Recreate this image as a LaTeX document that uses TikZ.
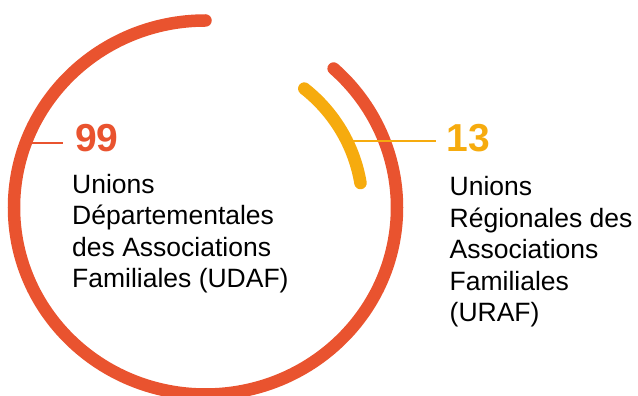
\documentclass[tikz,border=0pt]{standalone}
\usepackage{fontspec}
\setmainfont{Liberation Sans}[BoldFont={Liberation Sans Bold}]
\usepackage{tikz}
\usetikzlibrary{positioning}
\definecolor{udafred}{RGB}{233,83,47}
\definecolor{urafyellow}{RGB}{246,171,14}

\begin{document}
\begin{tikzpicture}[x=1pt, y=1pt,
    ring/.style={line width=12.5pt, line cap=round},
    tick/.style={line width=2.2pt},
    bignum/.style={inner sep=0pt, anchor=base west, font=\bfseries\fontsize{39}{39}\selectfont},
    caption/.style={inner sep=0pt, anchor=base west, align=left, font=\fontsize{26.5}{31.4}\selectfont}]
            \useasboundingbox (0,0) rectangle (638,396); % canvas
            \coordinate (ctr) at (205.5,188.5); % ring centre
            \draw[ring, udafred] ([shift={(90:191.5pt and 187pt)}]ctr) arc[start angle=90, end angle=408, x radius=191.5pt, y radius=187pt]; % UDAF ring
            \draw[ring, urafyellow] ([shift={(51:157pt and 153pt)}]ctr) arc[start angle=51, end angle=9.2, x radius=157pt, y radius=153pt]; % URAF ring
            \coordinate (udafArc) at ([shift={(159.7:191.5pt and 187pt)}]ctr);
            \coordinate (urafArc) at ([shift={(25.8:157pt and 153pt)}]ctr);
            \node[bignum, text=udafred] (num99) at (75,244.3) {99};
            \node[bignum, text=urafyellow] (num13) at (446.5,244.3) {13};
            \node[caption] (udaf) at (72,108.5) {Unions\\Départementales\\des Associations\\Familiales (UDAF)}; % base = last line
            \node[caption] (uraf) at (449.5,74.5) {Unions\\Régionales des\\Associations\\Familiales\\(URAF)};
            \draw[tick, udafred] (udafArc) -- ([xshift=-12pt]udafArc -| num99.west); % UDAF tick
            \draw[tick, urafyellow] (urafArc) -- ([xshift=-11pt]urafArc -| num13.west); % URAF tick
        \end{tikzpicture}
\end{document}
